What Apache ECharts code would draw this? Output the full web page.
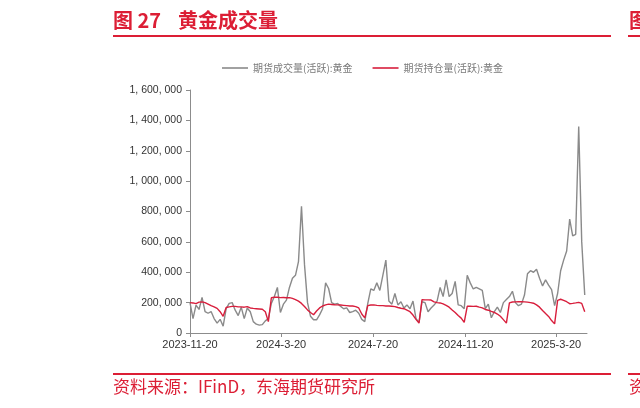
<!DOCTYPE html>
<html><head><meta charset="utf-8">
<script src="https://cdn.jsdelivr.net/npm/echarts@6/dist/echarts.min.js"></script>
<style>html,body{margin:0;padding:0;background:#fff}#c{width:640px;height:408px}</style>
</head><body><div id="c"></div>
<script>
// ---- data ----
const seriesNames = ['期货成交量(活跃):黄金', '期货持仓量(活跃):黄金'];
const startDate = [2023, 11, 20];   // first sample date
const endDate = [2025, 4, 30];      // axis end
const stepDays = 4;                 // sampling step of the series below
const tickLabels = ['2023-11-20', '2024-3-20', '2024-7-20', '2024-11-20', '2025-3-20'];
const yTicks = [0, 200000, 400000, 600000, 800000, 1000000, 1200000, 1400000, 1600000];

const volume = [
 200000, 95000,184000,155000,235000,141000,130000,141000, 95000, 65000,
  90000, 45000,160000,195000,200000,150000,115000,170000, 95000,165000,
 140000, 75000, 58000, 52000, 55000, 80000, 95000,195000,240000,300000,
 135000,190000,217000,300000,360000,380000,470000,835000,450000,200000,
 110000, 87000, 87000,119000,160000,330000,293000,200000,190000,195000,
 175000,160000,165000,135000,141000,150000,130000, 90000, 75000,195000,
 290000,280000,330000,280000,380000,480000,210000,190000,260000,185000,
 206000,165000,185000,160000,210000, 95000, 70000,206000,200000,140000,
 165000,184000,210000,300000,240000,350000,240000,260000,340000,185000,
 180000,160000,380000,330000,290000,300000,290000,280000,160000,190000,
 100000,140000,170000,135000,200000,220000,240000,275000,200000,180000,
 190000,250000,390000,410000,400000,420000,360000,310000,350000,315000,
 285000,180000,260000,410000,480000,540000,750000,640000,650000,1360000,
 600000,250000
];
const openInterest = [
 200000,198000,193000,203000,205000,200000,190000,180000,172000,162000,
 140000,110000,168000,172000,175000,175000,172000,172000,170000,174000,
 165000,162000,160000,158000,156000,140000, 75000,232000,235000,235000,
 233000,234000,232000,233000,228000,220000,210000,195000,175000,152000,
 135000,120000,145000,165000,178000,185000,190000,188000,186000,185000,
 184000,182000,180000,178000,178000,174000,165000,125000,100000,180000,
 184000,185000,182000,180000,180000,178000,178000,176000,174000,168000,
 163000,160000,150000,140000,118000, 90000, 65000,220000,218000,218000,
 217000,205000,200000,198000,192000,182000,170000,152000,135000,115000,
  98000, 70000,176000,176000,175000,176000,170000,165000,155000,150000,
 142000,135000,125000,110000, 88000, 65000,198000,204000,205000,206000,
 206000,205000,203000,200000,196000,185000,170000,148000,128000,109000,
  82000, 60000,215000,222000,215000,206000,193000,195000,198000,202000,
 195000,140000
];

// ---- build ----
function ts(y, m, d) { return new Date(y, m - 1, d).getTime(); }
const sampleTimes = volume.map((_, i) => ts(startDate[0], startDate[1], startDate[2] + i * stepDays));
const tickTimes = tickLabels.map(s => { const p = s.split('-').map(Number); return ts(p[0], p[1], p[2]); });
const volData = volume.map((v, i) => [sampleTimes[i], v]);
const oiData = openInterest.map((v, i) => [sampleTimes[i], v]);

const RED = '#D81E3C';
const TITLE_RED = '#DC1E35';
const GRAY = '#8A8A8A';

function fmtNum(v) { return String(v).replace(/\B(?=(\d{3})+(?!\d))/g, ', '); }
function fmtDate(t) {
  let best = 0, bd = Infinity;
  tickTimes.forEach((tt, i) => { const d = Math.abs(tt - t); if (d < bd) { bd = d; best = i; } });
  return bd < 86400000 ? tickLabels[best] : '';
}

const chart = echarts.init(document.getElementById('c'), null, { renderer: 'canvas' });
chart.setOption({
  backgroundColor: '#fff',
  animation: false,
  textStyle: { fontFamily: 'Liberation Sans, Arial, sans-serif' },
  grid: { left: 190, right: 53, top: 90, bottom: 75, containLabel: false },
  legend: {
    left: 217, top: 58, itemWidth: 26, itemHeight: 10, itemGap: 20,
    icon: 'path://M0,4.2 L26,4.2 L26,5.8 L0,5.8 Z',
    textStyle: { fontSize: 10, color: '#7a7a7a', fontFamily: 'Noto Sans CJK SC' },
    data: seriesNames
  },
  xAxis: {
    type: 'value',
    min: ts(startDate[0], startDate[1], startDate[2]),
    max: ts(endDate[0], endDate[1], endDate[2]),
    axisLine: { lineStyle: { color: '#8c8c8c', width: 1 } },
    axisTick: { show: true, customValues: tickTimes, length: 4, lineStyle: { color: '#8c8c8c' } },
    axisLabel: { customValues: tickTimes, formatter: fmtDate, color: '#333', fontSize: 11, margin: 6,
                 hideOverlap: false },
    splitLine: { show: false }
  },
  yAxis: {
    type: 'value', min: yTicks[0], max: yTicks[yTicks.length - 1], interval: yTicks[1] - yTicks[0],
    axisLine: { show: true, lineStyle: { color: '#8c8c8c', width: 1 } },
    axisTick: { show: true, length: 4, lineStyle: { color: '#8c8c8c' } },
    axisLabel: { formatter: fmtNum, color: '#333', fontSize: 10.5, margin: 8 },
    splitLine: { show: false }
  },
  series: [
    { name: seriesNames[0], type: 'line', data: volData, symbol: 'none', showSymbol: false,
      lineStyle: { color: GRAY, width: 1.4 }, itemStyle: { color: GRAY }, z: 2 },
    { name: seriesNames[1], type: 'line', data: oiData, symbol: 'none', showSymbol: false,
      lineStyle: { color: RED, width: 1.4 }, itemStyle: { color: RED }, z: 3 }
  ],
  graphic: [
    { type: 'text', left: 113, top: 10, style: { text: '图 27', fill: TITLE_RED, font: 'bold 20px "Noto Sans CJK SC"' } },
    { type: 'text', left: 178, top: 10, style: { text: '黄金成交量', fill: TITLE_RED, font: 'bold 20px "Noto Sans CJK SC"' } },
    { type: 'rect', shape: { x: 113, y: 35, width: 498, height: 2 }, style: { fill: TITLE_RED } },
    { type: 'rect', shape: { x: 628, y: 35, width: 12, height: 2 }, style: { fill: TITLE_RED } },
    { type: 'text', x: 629, y: 10, style: { text: '图', fill: TITLE_RED, font: 'bold 20px "Noto Sans CJK SC"' } },
    { type: 'rect', shape: { x: 113, y: 373, width: 498, height: 2 }, style: { fill: TITLE_RED } },
    { type: 'rect', shape: { x: 628, y: 373, width: 12, height: 2 }, style: { fill: TITLE_RED } },
    { type: 'text', left: 113, top: 378, style: { text: '资料来源：IFinD，东海期货研究所', fill: TITLE_RED, font: '17px "Noto Sans CJK SC"' } },
    { type: 'text', x: 629, y: 378, style: { text: '资', fill: TITLE_RED, font: '17px "Noto Sans CJK SC"' } }
  ]
});
</script>
</body></html>
